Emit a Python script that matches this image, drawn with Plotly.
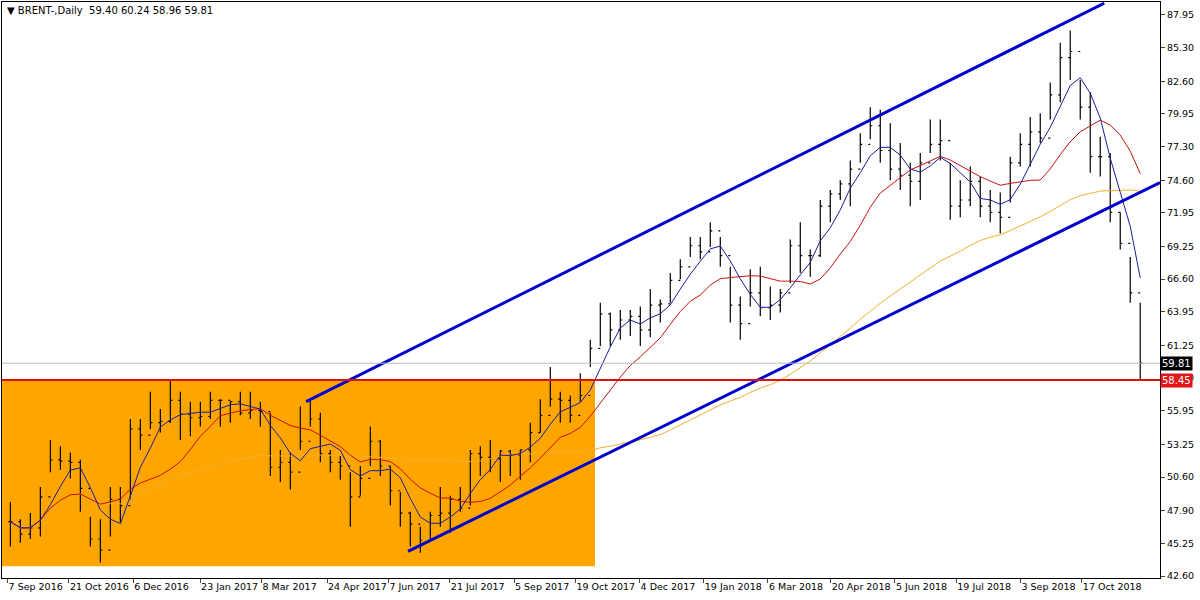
import pandas as pd
import plotly.graph_objects as go

# weekly-ish samples (high, low, close)
highs = [48.6,47.2,47.7,49.8,53.6,53.1,52.6,52.0,47.4,47.2,49.8,49.8,55.3,55.3,57.5,56.1,58.5,57.5,56.7,56.7,57.5,56.9,56.7,57.5,57.5,56.7,55.8,52.8,52.6,
         56.3,56.9,55.8,52.8,52.3,51.0,51.5,54.7,53.6,51.5,49.4,47.8,46.6,47.8,49.8,49.1,49.8,52.8,53.1,53.6,52.8,52.8,52.8,55.0,56.9,59.5,57.5,57.2,59.0,
         61.7,64.7,63.9,64.1,64.1,64.4,65.8,64.95,67.1,68.2,70.0,70.0,71.2,70.0,67.6,65.2,67.4,67.6,66.0,65.8,69.8,71.2,69.0,73.0,73.8,74.6,
         76.2,78.4,80.5,80.3,79.2,77.6,76.0,76.8,79.5,79.5,76.0,74.6,75.7,74.9,73.8,73.6,76.5,78.4,79.7,80.0,82.5,85.7,86.7,82.7,81.7,78.1,76.8,72.0,68.4,64.7]
lows = [45.0,45.3,45.6,45.8,51.0,51.2,50.5,47.8,45.0,43.7,45.8,46.9,48.8,52.8,54.5,54.2,55.0,53.6,53.9,54.7,55.3,54.7,55.0,55.6,55.3,54.7,50.7,50.2,49.6,
        52.8,54.7,51.8,51.0,50.4,46.6,49.1,51.5,50.7,48.3,46.6,45.0,44.5,45.6,46.6,46.1,47.8,48.3,50.7,51.0,50.2,50.7,50.4,51.8,54.2,56.3,55.0,55.0,56.7,
        59.5,61.2,61.2,61.7,62.0,61.2,61.9,63.1,64.7,66.6,68.4,68.2,69.2,67.6,63.1,61.7,64.4,63.6,63.3,63.9,66.3,67.1,66.8,68.4,71.2,73.0,
        72.5,76.0,77.9,76.0,74.6,73.8,72.5,73.0,76.8,76.2,71.4,71.6,72.5,71.6,71.2,70.3,72.8,75.7,75.7,77.6,79.5,80.9,82.7,79.5,75.2,74.9,71.2,69.0,64.7,58.45]
closes = [47.0,46.0,46.5,49.0,52.0,51.9,51.8,49.7,45.6,44.7,48.8,48.3,54.5,54.0,55.0,55.1,56.8,55.7,55.4,55.5,56.8,56.8,56.7,55.8,56.0,55.9,51.4,51.8,51.0,
          53.5,55.3,52.5,51.8,51.5,49.0,50.5,53.5,51.5,49.5,47.7,46.8,45.5,47.5,47.7,48.8,48.1,52.5,52.2,52.1,52.7,52.4,52.8,54.2,55.6,56.9,56.8,55.6,57.2,
          61.0,63.8,62.5,63.3,63.6,62.5,64.5,64.6,66.5,67.6,69.3,68.8,70.5,68.5,64.5,63.0,65.5,64.3,64.5,65.5,69.3,68.5,68.5,72.5,73.5,74.3,
          75.5,77.5,79.0,77.0,75.5,75.0,74.5,76.0,77.5,77.8,72.5,73.0,74.5,72.5,72.0,71.6,76.0,77.5,78.5,78.0,81.5,84.5,85.0,80.5,76.5,76.5,72.0,69.5,65.5,59.81]
dates = pd.date_range("2016-09-09", periods=len(closes), freq="172h")
opens = [closes[0]] + closes[:-1]

tick_dates = ["2016-09-07","2016-10-21","2016-12-06","2017-01-23","2017-03-08","2017-04-24","2017-06-07","2017-07-21",
              "2017-09-05","2017-10-19","2017-12-04","2018-01-19","2018-03-06","2018-04-20","2018-06-05","2018-07-19","2018-09-03","2018-10-17"]
tick_text = ["7 Sep 2016","21 Oct 2016","6 Dec 2016","23 Jan 2017","8 Mar 2017","24 Apr 2017","7 Jun 2017","21 Jul 2017",
             "5 Sep 2017","19 Oct 2017","4 Dec 2017","19 Jan 2018","6 Mar 2018","20 Apr 2018","5 Jun 2018","19 Jul 2018","3 Sep 2018","17 Oct 2018"]
y_ticks = [42.60,45.25,47.90,50.60,53.25,55.95,58.60,61.25,63.95,66.60,69.25,71.95,74.60,77.30,79.95,82.60,85.30,87.95]

upper_x = ["2017-04-09","2018-11-02"]; upper_y = [56.7, 88.9]
lower_x = ["2017-06-21","2018-12-12"]; lower_y = [44.6, 74.4]
support = 58.45
last_close = 59.81
box_x = ["2016-09-01","2017-11-02"]; box_y = [43.4, 58.45]

s = pd.Series(closes)
ma_fast = s.rolling(4, min_periods=1).mean()
ma_mid = s.rolling(10, min_periods=1).mean()
ma_slow = s.rolling(40, min_periods=1).mean()

fig = go.Figure()
fig.add_shape(type="rect", x0=box_x[0], x1=box_x[1], y0=box_y[0], y1=box_y[1],
              fillcolor="#ffa500", line_width=0, layer="below")
fig.add_trace(go.Scatter(x=dates, y=ma_slow, mode="lines", line=dict(color="#f0b030", width=1)))
fig.add_trace(go.Scatter(x=dates, y=ma_mid, mode="lines", line=dict(color="#c81010", width=1)))
fig.add_trace(go.Scatter(x=dates, y=ma_fast, mode="lines", line=dict(color="#1c1c9c", width=1)))
fig.add_trace(go.Ohlc(x=dates, open=opens, high=highs, low=lows, close=closes,
                      increasing_line_color="black", decreasing_line_color="black",
                      line_width=1.2, tickwidth=0.2))
fig.add_hline(y=last_close, line=dict(color="#bbbbbb", width=1))
fig.add_hline(y=support, line=dict(color="#dd1111", width=2))
fig.add_trace(go.Scatter(x=upper_x, y=upper_y, mode="lines", line=dict(color="#0000cc", width=3)))
fig.add_trace(go.Scatter(x=lower_x, y=lower_y, mode="lines", line=dict(color="#0000cc", width=3)))

fig.add_annotation(xref="paper", x=1.0, y=last_close, text=f"{last_close:.2f}", showarrow=False,
                   xanchor="left", bgcolor="black", font=dict(color="white", size=10, family="DejaVu Sans"), borderpad=1)
fig.add_annotation(xref="paper", x=1.0, y=support, text=f"{support:.2f}", showarrow=False,
                   xanchor="left", bgcolor="#e41515", font=dict(color="white", size=10, family="DejaVu Sans"), borderpad=1)
fig.add_annotation(xref="paper", yref="paper", x=0.003, y=0.998, xanchor="left", yanchor="top", showarrow=False,
                   text="▼ BRENT-,Daily  59.40 60.24 58.96 59.81", font=dict(size=10, family="DejaVu Sans", color="black"))

fig.update_layout(width=1200, height=600, showlegend=False, plot_bgcolor="white", paper_bgcolor="white",
                  margin=dict(l=2, r=40, t=2, b=22, autoexpand=False), font=dict(family="DejaVu Sans", size=9.5, color="black"))
fig.update_xaxes(type="date", range=["2016-09-03","2018-12-12"], tickvals=tick_dates, ticktext=tick_text,
                 showgrid=False, showline=True, linecolor="black", mirror=True, ticks="outside", ticklen=4,
                 rangeslider_visible=False, tickangle=0, ticklabelposition="outside right", automargin=False)
fig.update_yaxes(side="right", range=[42.45, 89.0], tickvals=y_ticks, ticktext=[f"{v:.2f}" for v in y_ticks],
                 showgrid=False, showline=True, linecolor="black", mirror=True, ticks="outside", ticklen=4,
                 zeroline=False, automargin=False)
fig.write_html("out.html", config={"displayModeBar": False})
with open("out.html", encoding="utf-8") as f:
    html = f.read()
html = html.replace("<body>", '<body style="margin:0;padding:0;overflow:hidden">', 1)
with open("out.html", "w", encoding="utf-8") as f:
    f.write(html)
